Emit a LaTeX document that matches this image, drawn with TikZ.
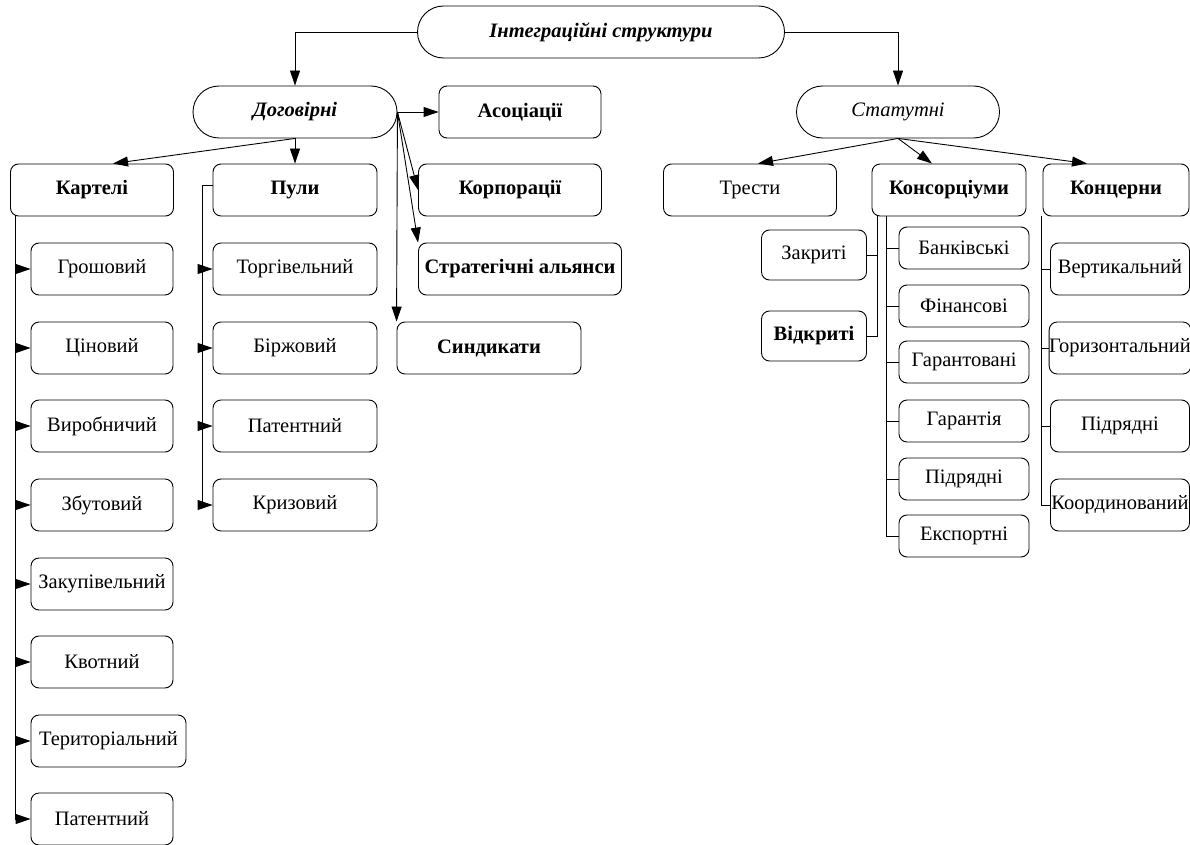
\documentclass[tikz,border=0pt]{standalone}
\usepackage{fontspec}
\setmainfont{Liberation Serif}
\usetikzlibrary{arrows.meta}
\tikzset{
    box/.style={draw,rounded corners=8,minimum height=52,inner sep=0,font=\fontsize{20.5}{24}\selectfont},
    hbox/.style={box,font=\fontsize{20.5}{24}\selectfont\bfseries},
    pill/.style={box,rounded corners=26,font=\fontsize{20.5}{24}\selectfont\bfseries\itshape},
    kbox/.style={box,minimum width=142},
    pbox/.style={box,minimum width=164},
    tbox/.style={box,minimum width=105,minimum height=50},
    sbox/.style={box,minimum width=130,minimum height=42},
    cbox/.style={box,minimum width=139},
    link/.style={->,shorten >=0pt},
    tie/.style={-}
}
\begin{document}
\begin{tikzpicture}[x=1pt,y=-1pt,line width=0.9pt,>={Triangle[length=15pt,width=10pt]}]
\useasboundingbox (0,0) rectangle (1190,845);
% top levels
\node[pill,minimum width=367] (top) at (601,32) {Інтеграційні структури};
\node[pill,minimum width=204] (dog) at (295,112) {Договірні};
\node[pill,minimum width=203,font=\fontsize{20.5}{24}\selectfont\itshape] (stat) at (898,112) {Статутні};
\draw[link] (top.west) -| (dog.north);
\draw[link] (top.east) -| (stat.north);
% contract forms
\node[hbox,minimum width=162] (asoc) at (520,112) {Асоціації};
\node[hbox,minimum width=183] (korp) at (510,190) {Корпорації};
\node[hbox,minimum width=203] (strat) at (520,269) {Стратегічні альянси};
\node[hbox,minimum width=184] (synd) at (489,348) {Синдикати};
\node[hbox,minimum width=163] (kart) at (92,190) {Картелі};
\node[hbox,minimum width=164] (puly) at (295,190) {Пули};
\draw[link] (dog.east) -- (asoc.west);
\draw[link] (dog.east) -- (korp.west);
\draw[link] (dog.east) -- (strat.north west);
\draw[link] (dog.east) -- (synd.north west);
\draw[link] (dog.south) -- ([xshift=21]kart.north);
\draw[link] (dog.south) -- (puly.north);
% cartels
\node[kbox] (k1) at (102,269) {Грошовий};
\node[kbox] (k2) at (102,348) {Ціновий};
\node[kbox] (k3) at (102,426) {Виробничий};
\node[kbox] (k4) at (102,505) {Збутовий};
\node[kbox] (k5) at (102,584) {Закупівельний};
\node[kbox] (k6) at (102,662) {Квотний};
\node[box,minimum width=155] (k7) at (108.5,741) {Територіальний};
\node[kbox] (k8) at (102,819) {Патентний};
\coordinate (kt) at ([xshift=5]kart.south west);
\foreach \k in {k1,k2,k3,k4,k5,k6,k7,k8}
    \draw[link] (kt) |- (\k.west);
% pools
\node[pbox] (p1) at (295,269) {Торгівельний};
\node[pbox] (p2) at (295,348) {Біржовий};
\node[pbox] (p3) at (295,426) {Патентний};
\node[pbox] (p4) at (295,505) {Кризовий};
\coordinate (pt) at ([xshift=-10,yshift=5]puly.west);
\draw[tie] ([yshift=5]puly.west) -- (pt);
\foreach \p in {p1,p2,p3,p4}
    \draw[link] (pt) |- (\p.west);
% statutory forms
\node[box,minimum width=173] (trest) at (750,190) {Трести};
\node[hbox,minimum width=154] (kons) at (949,190) {Консорціуми};
\node[hbox,minimum width=146] (konc) at (1116,190) {Концерни};
\draw[link] (stat.south) -- ([xshift=8]trest.north);
\draw[link] (stat.south) -- ([xshift=-17]kons.north);
\draw[link] (stat.south) -- ([xshift=-29]konc.north);
% trusts
\node[tbox] (t1) at (814,255) {Закриті};
\node[tbox,font=\fontsize{20.5}{24}\selectfont\bfseries] (t2) at (814,336) {Відкриті};
\coordinate (tt) at ([xshift=6]kons.south west);
\draw[tie] (tt) |- (t1.east);
\draw[tie] (tt) |- (t2.east);
% consortia
\node[sbox] (s1) at (964,248) {Банківські};
\node[sbox] (s2) at (964,306) {Фінансові};
\node[sbox] (s3) at (964,362) {Гарантовані};
\node[sbox] (s4) at (964,421) {Гарантія};
\node[sbox] (s5) at (964,479) {Підрядні};
\node[sbox] (s6) at (964,536) {Експортні};
\coordinate (st) at ([xshift=15]kons.south west);
\foreach \s in {s1,s2,s3,s4,s5,s6}
    \draw[tie] (st) |- (\s.west);
% concerns
\node[cbox] (c1) at (1120,269) {Вертикальний};
\node[cbox] (c2) at (1120,348) {Горизонтальний};
\node[cbox] (c3) at (1120,426) {Підрядні};
\node[cbox] (c4) at (1120,505) {Координований};
\coordinate (ct) at ([xshift=-1]konc.south west);
\foreach \c in {c1,c2,c3,c4}
    \draw[tie] (ct) |- (\c.west);
\end{tikzpicture}
\end{document}
